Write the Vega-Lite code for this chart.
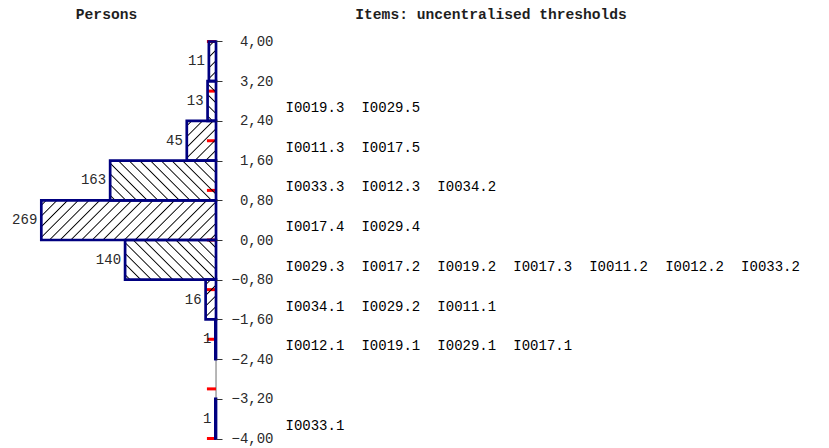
{
  "$schema": "https://vega.github.io/schema/vega-lite/v6.json",
  "width": 829,
  "height": 448,
  "autosize": {"type": "none"},
  "padding": 0,
  "background": "white",
  "config": {"view": {"stroke": null}, "font": "Liberation Mono"},
  "datasets": {
    "persons": [
      {"lo": 3.2, "hi": 4.0, "count": 11},
      {"lo": 2.4, "hi": 3.2, "count": 13},
      {"lo": 1.6, "hi": 2.4, "count": 45},
      {"lo": 0.8, "hi": 1.6, "count": 163},
      {"lo": 0, "hi": 0.8, "count": 269},
      {"lo": -0.8, "hi": 0, "count": 140},
      {"lo": -1.6, "hi": -0.8, "count": 16},
      {"lo": -2.4, "hi": -1.6, "count": 1},
      {"lo": -3.2, "hi": -2.4, "count": 0},
      {"lo": -4, "hi": -3.2, "count": 1}
    ],
    "items": [
      {"item": "I0019.3", "loc": 2.8, "pos": 0},
      {"item": "I0029.5", "loc": 2.8, "pos": 1},
      {"item": "I0011.3", "loc": 2.0, "pos": 0},
      {"item": "I0017.5", "loc": 2.0, "pos": 1},
      {"item": "I0033.3", "loc": 1.2, "pos": 0},
      {"item": "I0012.3", "loc": 1.2, "pos": 1},
      {"item": "I0034.2", "loc": 1.2, "pos": 2},
      {"item": "I0017.4", "loc": 0.4, "pos": 0},
      {"item": "I0029.4", "loc": 0.4, "pos": 1},
      {"item": "I0029.3", "loc": -0.4, "pos": 0},
      {"item": "I0017.2", "loc": -0.4, "pos": 1},
      {"item": "I0019.2", "loc": -0.4, "pos": 2},
      {"item": "I0017.3", "loc": -0.4, "pos": 3},
      {"item": "I0011.2", "loc": -0.4, "pos": 4},
      {"item": "I0012.2", "loc": -0.4, "pos": 5},
      {"item": "I0033.2", "loc": -0.4, "pos": 6},
      {"item": "I0034.1", "loc": -1.2, "pos": 0},
      {"item": "I0029.2", "loc": -1.2, "pos": 1},
      {"item": "I0011.1", "loc": -1.2, "pos": 2},
      {"item": "I0012.1", "loc": -2.0, "pos": 0},
      {"item": "I0019.1", "loc": -2.0, "pos": 1},
      {"item": "I0029.1", "loc": -2.0, "pos": 2},
      {"item": "I0017.1", "loc": -2.0, "pos": 3},
      {"item": "I0033.1", "loc": -3.6, "pos": 0}
    ],
    "marks": [
      {"v": 4}, {"v": 3}, {"v": 2}, {"v": 1}, {"v": 0},
      {"v": -1}, {"v": -2}, {"v": -3}, {"v": -4}
    ]
  },
  "resolve": {"scale": {"x": "independent"}},
  "layer": [
    {
      "data": {"name": "persons"},
      "mark": {"type": "rule", "stroke": "#6e6e6e", "strokeWidth": 1},
      "encoding": {
        "x": {"datum": 0, "type": "quantitative", "scale": {"domain": [-943.8, 332.6], "reverse": true, "nice": false, "zero": false}, "axis": null},
        "y": {"field": "lo", "type": "quantitative", "scale": {"domain": [-4.191, 4.836], "nice": false, "zero": false},
          "axis": {
            "orient": "right", "offset": -613, "title": null, "zindex": 1,
            "values": [4, 3.2, 2.4, 1.6, 0.8, 0, -0.8, -1.6, -2.4, -3.2, -4],
            "labelExpr": "replace(format(datum.value, '.2f'), '.', ',')",
            "domain": false, "grid": false,
            "ticks": true, "tickSize": 6, "tickColor": "#333333", "tickWidth": 1,
            "labelFont": "Liberation Mono", "labelFontSize": 14, "labelColor": "#2a2a2a",
            "labelAlign": "right", "labelBaseline": "middle", "labelPadding": 51
          }},
        "y2": {"field": "hi"}
      }
    },
    {
      "data": {"name": "marks"},
      "mark": {"type": "rule", "stroke": "#ff0000", "strokeWidth": 3},
      "encoding": {
        "x": {"datum": 14, "type": "quantitative", "scale": {"domain": [-943.8, 332.6], "reverse": true, "nice": false, "zero": false}, "axis": null},
        "x2": {"datum": 0},
        "y": {"field": "v", "type": "quantitative", "scale": {"domain": [-4.191, 4.836], "nice": false, "zero": false}}
      }
    },
    {
      "data": {"name": "persons"},
      "transform": [{"filter": "datum.count > 0"}],
      "mark": {"type": "rect", "stroke": "#000080", "strokeWidth": 2.7},
      "encoding": {
        "x": {"field": "count", "type": "quantitative", "scale": {"domain": [-943.8, 332.6], "reverse": true, "nice": false, "zero": false}, "axis": null},
        "x2": {"datum": 0},
        "y": {"field": "hi", "type": "quantitative", "scale": {"domain": [-4.191, 4.836], "nice": false, "zero": false}},
        "y2": {"field": "lo"},
        "fill": {
          "condition": [
            {"test": "datum.lo == 3.2", "value": {"gradient": "linear", "x1": 0, "y1": 0, "x2": 0.2055, "y2": 1.1429, "stops": [
              {"offset": 0.0790, "color": "rgba(0,0,0,0)"}, {"offset": 0.1067, "color": "#000"}, {"offset": 0.1345, "color": "rgba(0,0,0,0)"},
              {"offset": 0.3074, "color": "rgba(0,0,0,0)"}, {"offset": 0.3352, "color": "#000"}, {"offset": 0.3629, "color": "rgba(0,0,0,0)"},
              {"offset": 0.5359, "color": "rgba(0,0,0,0)"}, {"offset": 0.5636, "color": "#000"}, {"offset": 0.5914, "color": "rgba(0,0,0,0)"},
              {"offset": 0.7643, "color": "rgba(0,0,0,0)"}, {"offset": 0.7921, "color": "#000"}, {"offset": 0.8198, "color": "rgba(0,0,0,0)"}
            ]}},
            {"test": "datum.lo == 2.4", "value": {"gradient": "linear", "x1": 0, "y1": 1, "x2": 0.2466, "y2": -0.1602, "stops": [
              {"offset": 0.0769, "color": "rgba(0,0,0,0)"}, {"offset": 0.1039, "color": "#000"}, {"offset": 0.1309, "color": "rgba(0,0,0,0)"},
              {"offset": 0.2991, "color": "rgba(0,0,0,0)"}, {"offset": 0.3261, "color": "#000"}, {"offset": 0.3531, "color": "rgba(0,0,0,0)"},
              {"offset": 0.5214, "color": "rgba(0,0,0,0)"}, {"offset": 0.5484, "color": "#000"}, {"offset": 0.5754, "color": "rgba(0,0,0,0)"},
              {"offset": 0.7437, "color": "rgba(0,0,0,0)"}, {"offset": 0.7707, "color": "#000"}, {"offset": 0.7977, "color": "rgba(0,0,0,0)"}
            ]}},
            {"test": "datum.lo == 1.6", "value": {"gradient": "linear", "x1": 0, "y1": 0, "x2": 0.8290, "y2": 1.1259, "stops": [
              {"offset": 0.0537, "color": "rgba(0,0,0,0)"}, {"offset": 0.0725, "color": "#000"}, {"offset": 0.0914, "color": "rgba(0,0,0,0)"},
              {"offset": 0.2089, "color": "rgba(0,0,0,0)"}, {"offset": 0.2278, "color": "#000"}, {"offset": 0.2466, "color": "rgba(0,0,0,0)"},
              {"offset": 0.3641, "color": "rgba(0,0,0,0)"}, {"offset": 0.3830, "color": "#000"}, {"offset": 0.4019, "color": "rgba(0,0,0,0)"},
              {"offset": 0.5194, "color": "rgba(0,0,0,0)"}, {"offset": 0.5382, "color": "#000"}, {"offset": 0.5571, "color": "rgba(0,0,0,0)"},
              {"offset": 0.6746, "color": "rgba(0,0,0,0)"}, {"offset": 0.6935, "color": "#000"}, {"offset": 0.7123, "color": "rgba(0,0,0,0)"},
              {"offset": 0.8298, "color": "rgba(0,0,0,0)"}, {"offset": 0.8487, "color": "#000"}, {"offset": 0.8675, "color": "rgba(0,0,0,0)"}
            ]}},
            {"test": "datum.lo == 0.8", "value": {"gradient": "linear", "x1": 0, "y1": 1, "x2": 1.2055, "y2": 0.548, "stops": [
              {"offset": 0.0254, "color": "rgba(0,0,0,0)"}, {"offset": 0.0343, "color": "#000"}, {"offset": 0.0433, "color": "rgba(0,0,0,0)"},
              {"offset": 0.0989, "color": "rgba(0,0,0,0)"}, {"offset": 0.1079, "color": "#000"}, {"offset": 0.1168, "color": "rgba(0,0,0,0)"},
              {"offset": 0.1724, "color": "rgba(0,0,0,0)"}, {"offset": 0.1814, "color": "#000"}, {"offset": 0.1903, "color": "rgba(0,0,0,0)"},
              {"offset": 0.2459, "color": "rgba(0,0,0,0)"}, {"offset": 0.2549, "color": "#000"}, {"offset": 0.2638, "color": "rgba(0,0,0,0)"},
              {"offset": 0.3194, "color": "rgba(0,0,0,0)"}, {"offset": 0.3284, "color": "#000"}, {"offset": 0.3373, "color": "rgba(0,0,0,0)"},
              {"offset": 0.3929, "color": "rgba(0,0,0,0)"}, {"offset": 0.4019, "color": "#000"}, {"offset": 0.4108, "color": "rgba(0,0,0,0)"},
              {"offset": 0.4664, "color": "rgba(0,0,0,0)"}, {"offset": 0.4754, "color": "#000"}, {"offset": 0.4843, "color": "rgba(0,0,0,0)"},
              {"offset": 0.5399, "color": "rgba(0,0,0,0)"}, {"offset": 0.5489, "color": "#000"}, {"offset": 0.5578, "color": "rgba(0,0,0,0)"},
              {"offset": 0.6135, "color": "rgba(0,0,0,0)"}, {"offset": 0.6224, "color": "#000"}, {"offset": 0.6313, "color": "rgba(0,0,0,0)"},
              {"offset": 0.6870, "color": "rgba(0,0,0,0)"}, {"offset": 0.6959, "color": "#000"}, {"offset": 0.7048, "color": "rgba(0,0,0,0)"},
              {"offset": 0.7605, "color": "rgba(0,0,0,0)"}, {"offset": 0.7694, "color": "#000"}, {"offset": 0.7783, "color": "rgba(0,0,0,0)"},
              {"offset": 0.8340, "color": "rgba(0,0,0,0)"}, {"offset": 0.8429, "color": "#000"}, {"offset": 0.8518, "color": "rgba(0,0,0,0)"},
              {"offset": 0.9075, "color": "rgba(0,0,0,0)"}, {"offset": 0.9164, "color": "#000"}, {"offset": 0.9253, "color": "rgba(0,0,0,0)"},
              {"offset": 0.9810, "color": "rgba(0,0,0,0)"}, {"offset": 0.9899, "color": "#000"}, {"offset": 0.9988, "color": "rgba(0,0,0,0)"}
            ]}},
            {"test": "datum.lo == 0", "value": {"gradient": "linear", "x1": 0, "y1": 0, "x2": 1.1670, "y2": 0.2652, "stops": [
              {"offset": 0.0173, "color": "rgba(0,0,0,0)"}, {"offset": 0.0233, "color": "#000"}, {"offset": 0.0294, "color": "rgba(0,0,0,0)"},
              {"offset": 0.0672, "color": "rgba(0,0,0,0)"}, {"offset": 0.0732, "color": "#000"}, {"offset": 0.0793, "color": "rgba(0,0,0,0)"},
              {"offset": 0.1171, "color": "rgba(0,0,0,0)"}, {"offset": 0.1231, "color": "#000"}, {"offset": 0.1292, "color": "rgba(0,0,0,0)"},
              {"offset": 0.1670, "color": "rgba(0,0,0,0)"}, {"offset": 0.1730, "color": "#000"}, {"offset": 0.1791, "color": "rgba(0,0,0,0)"},
              {"offset": 0.2169, "color": "rgba(0,0,0,0)"}, {"offset": 0.2229, "color": "#000"}, {"offset": 0.2290, "color": "rgba(0,0,0,0)"},
              {"offset": 0.2668, "color": "rgba(0,0,0,0)"}, {"offset": 0.2728, "color": "#000"}, {"offset": 0.2789, "color": "rgba(0,0,0,0)"},
              {"offset": 0.3167, "color": "rgba(0,0,0,0)"}, {"offset": 0.3227, "color": "#000"}, {"offset": 0.3288, "color": "rgba(0,0,0,0)"},
              {"offset": 0.3666, "color": "rgba(0,0,0,0)"}, {"offset": 0.3726, "color": "#000"}, {"offset": 0.3787, "color": "rgba(0,0,0,0)"},
              {"offset": 0.4165, "color": "rgba(0,0,0,0)"}, {"offset": 0.4225, "color": "#000"}, {"offset": 0.4286, "color": "rgba(0,0,0,0)"},
              {"offset": 0.4664, "color": "rgba(0,0,0,0)"}, {"offset": 0.4724, "color": "#000"}, {"offset": 0.4785, "color": "rgba(0,0,0,0)"},
              {"offset": 0.5163, "color": "rgba(0,0,0,0)"}, {"offset": 0.5223, "color": "#000"}, {"offset": 0.5284, "color": "rgba(0,0,0,0)"},
              {"offset": 0.5662, "color": "rgba(0,0,0,0)"}, {"offset": 0.5722, "color": "#000"}, {"offset": 0.5783, "color": "rgba(0,0,0,0)"},
              {"offset": 0.6161, "color": "rgba(0,0,0,0)"}, {"offset": 0.6221, "color": "#000"}, {"offset": 0.6282, "color": "rgba(0,0,0,0)"},
              {"offset": 0.6660, "color": "rgba(0,0,0,0)"}, {"offset": 0.6720, "color": "#000"}, {"offset": 0.6781, "color": "rgba(0,0,0,0)"},
              {"offset": 0.7159, "color": "rgba(0,0,0,0)"}, {"offset": 0.7219, "color": "#000"}, {"offset": 0.7280, "color": "rgba(0,0,0,0)"},
              {"offset": 0.7658, "color": "rgba(0,0,0,0)"}, {"offset": 0.7718, "color": "#000"}, {"offset": 0.7779, "color": "rgba(0,0,0,0)"},
              {"offset": 0.8157, "color": "rgba(0,0,0,0)"}, {"offset": 0.8217, "color": "#000"}, {"offset": 0.8278, "color": "rgba(0,0,0,0)"},
              {"offset": 0.8656, "color": "rgba(0,0,0,0)"}, {"offset": 0.8716, "color": "#000"}, {"offset": 0.8777, "color": "rgba(0,0,0,0)"},
              {"offset": 0.9155, "color": "rgba(0,0,0,0)"}, {"offset": 0.9215, "color": "#000"}, {"offset": 0.9276, "color": "rgba(0,0,0,0)"},
              {"offset": 0.9654, "color": "rgba(0,0,0,0)"}, {"offset": 0.9714, "color": "#000"}, {"offset": 0.9775, "color": "rgba(0,0,0,0)"}
            ]}},
            {"test": "datum.lo == -0.8", "value": {"gradient": "linear", "x1": 0, "y1": 1, "x2": 1.2066, "y2": 0.4732, "stops": [
              {"offset": 0.0283, "color": "rgba(0,0,0,0)"}, {"offset": 0.0383, "color": "#000"}, {"offset": 0.0482, "color": "rgba(0,0,0,0)"},
              {"offset": 0.1102, "color": "rgba(0,0,0,0)"}, {"offset": 0.1202, "color": "#000"}, {"offset": 0.1301, "color": "rgba(0,0,0,0)"},
              {"offset": 0.1921, "color": "rgba(0,0,0,0)"}, {"offset": 0.2021, "color": "#000"}, {"offset": 0.2120, "color": "rgba(0,0,0,0)"},
              {"offset": 0.2741, "color": "rgba(0,0,0,0)"}, {"offset": 0.2840, "color": "#000"}, {"offset": 0.2940, "color": "rgba(0,0,0,0)"},
              {"offset": 0.3560, "color": "rgba(0,0,0,0)"}, {"offset": 0.3659, "color": "#000"}, {"offset": 0.3759, "color": "rgba(0,0,0,0)"},
              {"offset": 0.4379, "color": "rgba(0,0,0,0)"}, {"offset": 0.4478, "color": "#000"}, {"offset": 0.4578, "color": "rgba(0,0,0,0)"},
              {"offset": 0.5198, "color": "rgba(0,0,0,0)"}, {"offset": 0.5297, "color": "#000"}, {"offset": 0.5397, "color": "rgba(0,0,0,0)"},
              {"offset": 0.6017, "color": "rgba(0,0,0,0)"}, {"offset": 0.6116, "color": "#000"}, {"offset": 0.6216, "color": "rgba(0,0,0,0)"},
              {"offset": 0.6836, "color": "rgba(0,0,0,0)"}, {"offset": 0.6935, "color": "#000"}, {"offset": 0.7035, "color": "rgba(0,0,0,0)"},
              {"offset": 0.7655, "color": "rgba(0,0,0,0)"}, {"offset": 0.7755, "color": "#000"}, {"offset": 0.7854, "color": "rgba(0,0,0,0)"},
              {"offset": 0.8474, "color": "rgba(0,0,0,0)"}, {"offset": 0.8574, "color": "#000"}, {"offset": 0.8673, "color": "rgba(0,0,0,0)"},
              {"offset": 0.9293, "color": "rgba(0,0,0,0)"}, {"offset": 0.9393, "color": "#000"}, {"offset": 0.9492, "color": "rgba(0,0,0,0)"}
            ]}},
            {"test": "datum.lo == -1.6", "value": {"gradient": "linear", "x1": 0, "y1": 0, "x2": 0.3090, "y2": 1.1808, "stops": [
              {"offset": 0.0739, "color": "rgba(0,0,0,0)"}, {"offset": 0.0998, "color": "#000"}, {"offset": 0.1258, "color": "rgba(0,0,0,0)"},
              {"offset": 0.2875, "color": "rgba(0,0,0,0)"}, {"offset": 0.3134, "color": "#000"}, {"offset": 0.3394, "color": "rgba(0,0,0,0)"},
              {"offset": 0.5011, "color": "rgba(0,0,0,0)"}, {"offset": 0.5271, "color": "#000"}, {"offset": 0.5530, "color": "rgba(0,0,0,0)"},
              {"offset": 0.7147, "color": "rgba(0,0,0,0)"}, {"offset": 0.7407, "color": "#000"}, {"offset": 0.7666, "color": "rgba(0,0,0,0)"},
              {"offset": 0.9283, "color": "rgba(0,0,0,0)"}, {"offset": 0.9543, "color": "#000"}, {"offset": 0.9802, "color": "rgba(0,0,0,0)"}
            ]}}
          ],
          "value": "rgba(0,0,0,0)"
        }
      }
    },
    {
      "data": {"name": "persons"},
      "transform": [{"filter": "datum.count > 0"}],
      "mark": {"type": "text", "font": "Liberation Mono", "fontSize": 14, "color": "#2a2a2a", "align": "right", "baseline": "middle", "dx": -4, "dy": 19.85},
      "encoding": {
        "x": {"field": "count", "type": "quantitative", "scale": {"domain": [-943.8, 332.6], "reverse": true, "nice": false, "zero": false}, "axis": null},
        "y": {"field": "hi", "type": "quantitative", "scale": {"domain": [-4.191, 4.836], "nice": false, "zero": false}},
        "text": {"field": "count", "type": "quantitative"}
      }
    },
    {
      "data": {"name": "items"},
      "mark": {"type": "text", "font": "Liberation Mono", "fontSize": 14, "color": "#000000", "align": "left", "baseline": "top"},
      "encoding": {
        "x": {"field": "pos", "type": "quantitative", "scale": {"domain": [-3.76, 7.158], "nice": false, "zero": false}, "axis": null},
        "y": {"field": "loc", "type": "quantitative", "scale": {"domain": [-4.191, 4.836], "nice": false, "zero": false}},
        "text": {"field": "item", "type": "nominal"}
      }
    },
    {
      "data": {"values": [{"t": "Persons"}]},
      "mark": {"type": "text", "font": "Liberation Mono", "fontSize": 14.6, "fontWeight": "bold", "color": "#1e1e1e", "align": "center", "baseline": "alphabetic"},
      "encoding": {
        "x": {"datum": 168.6, "type": "quantitative", "scale": {"domain": [-943.8, 332.6], "reverse": true, "nice": false, "zero": false}, "axis": null},
        "y": {"datum": 4.45, "type": "quantitative", "scale": {"domain": [-4.191, 4.836], "nice": false, "zero": false}},
        "text": {"field": "t", "type": "nominal"}
      }
    },
    {
      "data": {"values": [{"t": "Items: uncentralised thresholds"}]},
      "mark": {"type": "text", "font": "Liberation Mono", "fontSize": 14.6, "fontWeight": "bold", "color": "#1e1e1e", "align": "left", "baseline": "alphabetic"},
      "encoding": {
        "x": {"datum": 0.92, "type": "quantitative", "scale": {"domain": [-3.76, 7.158], "nice": false, "zero": false}, "axis": null},
        "y": {"datum": 4.45, "type": "quantitative", "scale": {"domain": [-4.191, 4.836], "nice": false, "zero": false}},
        "text": {"field": "t", "type": "nominal"}
      }
    }
  ]
}
